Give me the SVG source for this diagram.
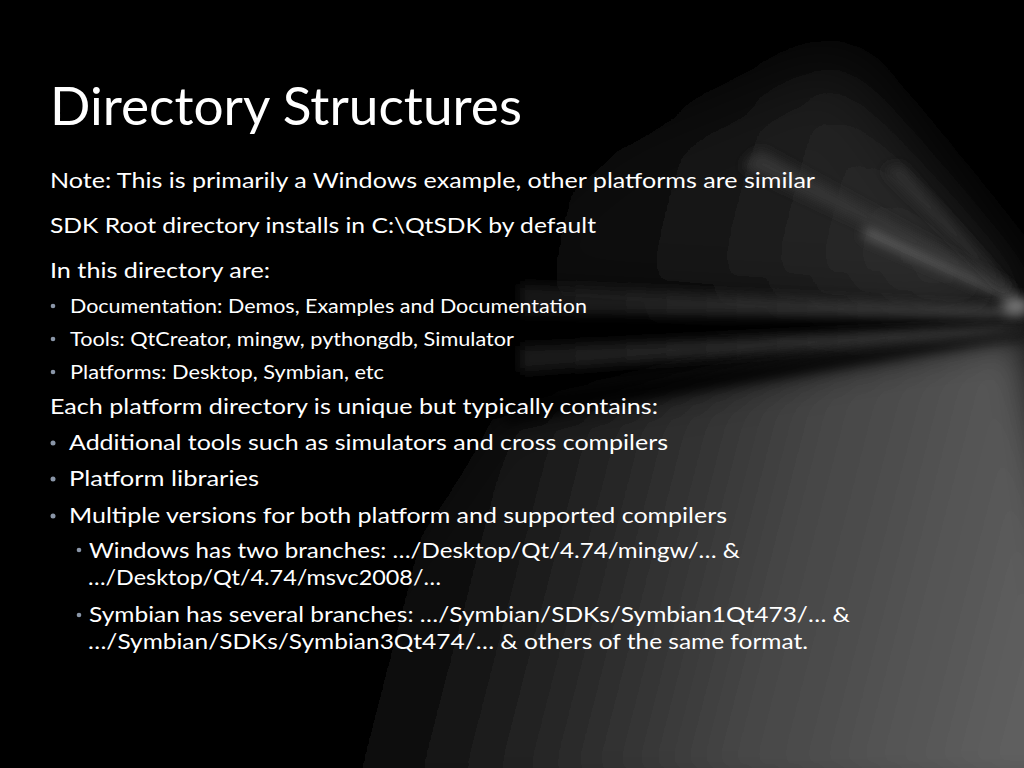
<svg xmlns="http://www.w3.org/2000/svg" width="1024" height="768" viewBox="0 0 1024 768">
<defs>
<style>
.t{font-family:Lato,"Open Sans","Liberation Sans",sans-serif;fill:#ffffff;}
.title{font-size:53px;}
.b{font-size:21px;}
.s{font-size:19.5px;}
.dot{fill:#8a96a8;}
</style>
<filter id="blurL" x="-50%" y="-50%" width="200%" height="200%"><feGaussianBlur stdDeviation="32"/></filter>
<filter id="blurM" x="-50%" y="-50%" width="200%" height="200%"><feGaussianBlur stdDeviation="20"/></filter>
<filter id="blurS" x="-50%" y="-50%" width="200%" height="200%"><feGaussianBlur stdDeviation="6"/></filter>
<linearGradient id="floorG" x1="1024" y1="640" x2="400" y2="480" gradientUnits="userSpaceOnUse">
<stop offset="0" stop-color="#5e5e5e"/>
<stop offset="0.4" stop-color="#454545"/>
<stop offset="0.75" stop-color="#1e1e1e"/>
<stop offset="1" stop-color="#000"/>
</linearGradient>
<linearGradient id="upper" x1="1024" y1="300" x2="520" y2="170" gradientUnits="userSpaceOnUse">
<stop offset="0" stop-color="#3c3c3c"/>
<stop offset="0.5" stop-color="#1e1e1e"/>
<stop offset="1" stop-color="#000"/>
</linearGradient>
<linearGradient id="bandFade" x1="1024" y1="0" x2="520" y2="0" gradientUnits="userSpaceOnUse">
<stop offset="0" stop-color="#4c4c4c"/>
<stop offset="1" stop-color="#1a1a1a"/>
</linearGradient>
</defs>
<g id="background">
<rect x="0" y="0" width="1024" height="768" fill="#000"/>
<path d="M1024,316 L840,60 L620,150 L460,290 L1024,322 Z" fill="url(#upper)" filter="url(#blurL)"/>
<path d="M1024,330 L1100,800 L240,800 L500,420 Z" fill="url(#floorG)" filter="url(#blurM)"/>
<path d="M1024,310 L520,284 L520,316 L1024,318 Z" fill="url(#bandFade)" filter="url(#blurS)" opacity="0.8"/>
<path d="M1024,321 L520,318 L520,344 L1024,326 Z" fill="#000" filter="url(#blurS)" opacity="0.85"/>
<path d="M1024,328 L520,346 L520,372 L1024,332 Z" fill="url(#bandFade)" filter="url(#blurS)" opacity="0.9"/>
<path d="M1024,331 L520,396 L500,424 L1024,337 Z" fill="#000" filter="url(#blurS)" opacity="0.8"/>
<path d="M1012,292 L870,222 L862,236 L1016,302 Z" fill="#5c5c5c" filter="url(#blurS)"/>
<path d="M1010,286 L760,150 L742,166 L1015,296 Z" fill="#353535" filter="url(#blurS)"/>
<path d="M1004,282 L900,165 L884,170 L1008,292 Z" fill="#303030" filter="url(#blurS)"/>
<ellipse cx="1016" cy="306" rx="14" ry="9" fill="#777" filter="url(#blurS)"/>
</g>
<g id="title">
<text class="t title" x="50" y="125" textLength="472" lengthAdjust="spacingAndGlyphs">Directory Structures</text>
</g>
<g id="content">
<text class="t b" x="50" y="188" textLength="765" lengthAdjust="spacingAndGlyphs">Note: This is primarily a Windows example, other platforms are similar</text>
<text class="t b" x="50" y="233" textLength="546" lengthAdjust="spacingAndGlyphs">SDK Root directory installs in C:\QtSDK by default</text>
<text class="t b" x="50" y="278" textLength="220" lengthAdjust="spacingAndGlyphs">In this directory are:</text>
<circle class="dot" cx="53" cy="306" r="2.3"/>
<text class="t s" x="70" y="313" textLength="517" lengthAdjust="spacingAndGlyphs">Documentation: Demos, Examples and Documentation</text>
<circle class="dot" cx="53" cy="339" r="2.3"/>
<text class="t s" x="70" y="346" textLength="444" lengthAdjust="spacingAndGlyphs">Tools: QtCreator, mingw, pythongdb, Simulator</text>
<circle class="dot" cx="53" cy="372" r="2.3"/>
<text class="t s" x="70" y="379" textLength="314" lengthAdjust="spacingAndGlyphs">Platforms: Desktop, Symbian, etc</text>
<text class="t b" x="50" y="414" textLength="608" lengthAdjust="spacingAndGlyphs">Each platform directory is unique but typically contains:</text>
<circle class="dot" cx="53" cy="443" r="2.5"/>
<text class="t b" x="69" y="450" textLength="599" lengthAdjust="spacingAndGlyphs">Additional tools such as simulators and cross compilers</text>
<circle class="dot" cx="53" cy="479" r="2.5"/>
<text class="t b" x="69" y="486" textLength="190" lengthAdjust="spacingAndGlyphs">Platform libraries</text>
<circle class="dot" cx="53" cy="516" r="2.5"/>
<text class="t b" x="69" y="523" textLength="658" lengthAdjust="spacingAndGlyphs">Multiple versions for both platform and supported compilers</text>
<circle class="dot" cx="79" cy="550" r="2.3"/>
<text class="t b" x="89" y="558" textLength="651" lengthAdjust="spacingAndGlyphs">Windows has two branches: …/Desktop/Qt/4.74/mingw/… &amp;</text>
<text class="t b" x="88" y="585" textLength="353" lengthAdjust="spacingAndGlyphs">…/Desktop/Qt/4.74/msvc2008/…</text>
<circle class="dot" cx="79" cy="615" r="2.3"/>
<text class="t b" x="89" y="622" textLength="761" lengthAdjust="spacingAndGlyphs">Symbian has several branches: …/Symbian/SDKs/Symbian1Qt473/… &amp;</text>
<text class="t b" x="88" y="649" textLength="720" lengthAdjust="spacingAndGlyphs">…/Symbian/SDKs/Symbian3Qt474/… &amp; others of the same format.</text>
</g>
</svg>
